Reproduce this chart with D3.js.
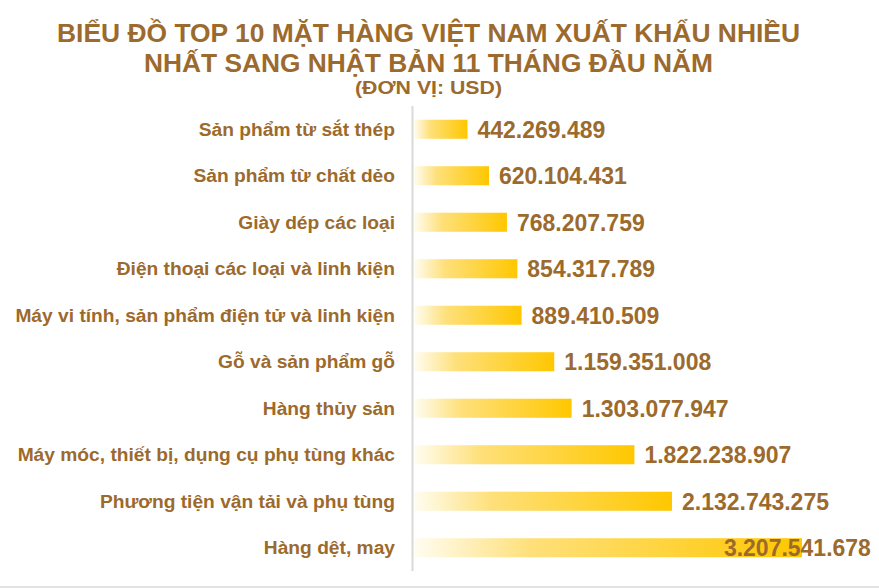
<!DOCTYPE html>
<html>
<head>
<meta charset="utf-8">
<script src="https://cdn.jsdelivr.net/npm/d3@7"></script>
<style>
  body { margin: 0; background: #fff; }
  svg { display: block; font-family: "Liberation Sans", Arial, sans-serif; font-weight: bold; }
</style>
</head>
<body>
<script>
// categories, top to bottom as in the picture
var categories = [
  "Sản phẩm từ sắt thép",
  "Sản phẩm từ chất dẻo",
  "Giày dép các loại",
  "Điện thoại các loại và linh kiện",
  "Máy vi tính, sản phẩm điện tử và linh kiện",
  "Gỗ và sản phẩm gỗ",
  "Hàng thủy sản",
  "Máy móc, thiết bị, dụng cụ phụ tùng khác",
  "Phương tiện vận tải và phụ tùng",
  "Hàng dệt, may"
];
// export value, USD
var values = [
  442269489, 620104431, 768207759, 854317789, 889410509,
  1159351008, 1303077947, 1822238907, 2132743275, 3207541678
];
var titleLines = [
  "BIỂU ĐỒ TOP 10 MẶT HÀNG VIỆT NAM XUẤT KHẨU NHIỀU",
  "NHẤT SANG NHẬT BẢN 11 THÁNG ĐẦU NĂM",
  "(ĐƠN VỊ: USD)"
];

var width = 879, height = 588;
var brown = "#9c6a2c";

var svg = d3.select("body").append("svg")
    .attr("width", width)
    .attr("height", height);

// bar fill: pale on the left, gold on the right
var grad = svg.append("defs").append("linearGradient")
    .attr("id", "gold")
    .attr("x1", "0%").attr("x2", "100%")
    .attr("y1", "0%").attr("y2", "0%");
grad.append("stop").attr("offset", "0%").attr("stop-color", "#fffdf2");
grad.append("stop").attr("offset", "30%").attr("stop-color", "#fee07a");
grad.append("stop").attr("offset", "100%").attr("stop-color", "#ffc700");

// title (the lines are stretched a little in the original)
var titleY = [42, 72, 94];
var titleSize = [26, 26, 17.5];
var titleW = [743, 569, 147];
svg.selectAll("text.title")
  .data(titleLines)
  .enter().append("text")
    .attr("class", "title")
    .attr("x", 428.5)
    .attr("y", function(d, i) { return titleY[i]; })
    .attr("text-anchor", "middle")
    .attr("textLength", function(d, i) { return titleW[i]; })
    .attr("lengthAdjust", "spacingAndGlyphs")
    .style("font-size", function(d, i) { return titleSize[i] + "px"; })
    .style("fill", brown)
    .text(function(d) { return d; });

// scales
var x = d3.scaleLinear()
    .domain([0, d3.max(values)])
    .range([414, 802]);

var y = d3.scaleBand()
    .domain(categories)
    .range([106, 571])
    .paddingInner(0.59)
    .paddingOuter(0.295);

var rows = categories.map(function(c, i) { return {name: c, value: values[i]}; });
var fmt = function(v) { return d3.format(",")(v).replace(/,/g, "."); };

// bars
svg.selectAll("rect.bar")
  .data(rows)
  .enter().append("rect")
    .attr("class", "bar")
    .attr("x", x(0))
    .attr("y", function(d) { return y(d.name); })
    .attr("width", function(d) { return x(d.value) - x(0); })
    .attr("height", y.bandwidth())
    .attr("fill", "url(#gold)");

// vertical axis line
svg.append("line")
    .attr("x1", 412.5).attr("x2", 412.5)
    .attr("y1", 106).attr("y2", 571)
    .attr("stroke", "#d9d9d9")
    .attr("stroke-width", 2);

// bottom border
svg.append("line")
    .attr("x1", 0).attr("x2", width)
    .attr("y1", 587).attr("y2", 587)
    .attr("stroke", "#d9d9d9")
    .attr("stroke-width", 1.5);

// category labels
svg.selectAll("text.cat")
  .data(rows)
  .enter().append("text")
    .attr("class", "cat")
    .attr("x", 395)
    .attr("y", function(d) { return y(d.name) + y.bandwidth() / 2; })
    .attr("dy", "0.35em")
    .attr("text-anchor", "end")
    .style("font-size", "19.2px")
    .style("fill", brown)
    .text(function(d) { return d.name; });

// value labels, pushed back inside the chart if they would run off the edge
var labels = svg.selectAll("text.val")
  .data(rows)
  .enter().append("text")
    .attr("class", "val")
    .attr("dy", "0.35em")
    .style("font-size", "23px")
    .style("fill", brown)
    .text(function(d) { return fmt(d.value); });

labels.each(function(d) {
  var w = this.getComputedTextLength();
  var lx = Math.min(x(d.value) + 10, 871 - w);
  var ly = y(d.name) + y.bandwidth() / 2;
  d3.select(this).attr("transform", "translate(" + lx + "," + ly + ") scale(1,1.07)");
});
</script>
</body>
</html>
